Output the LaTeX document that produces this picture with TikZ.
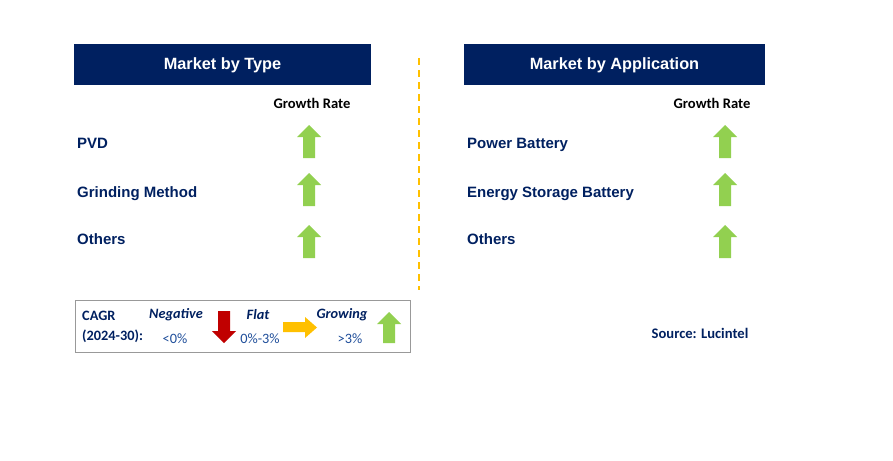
\documentclass[tikz,border=0pt]{standalone}
\usepackage{fontspec}
\setmainfont{Liberation Sans}
\newfontfamily\carlfont{Carlito}
\definecolor{navy}{HTML}{002060}
\definecolor{lblue}{HTML}{1F4E9A}
\definecolor{agreen}{HTML}{92D050}
\definecolor{ared}{HTML}{C00000}
\definecolor{ayellow}{HTML}{FFC000}
\newcommand\myup[3]{\fill[#3] (#1-12,#2) -- (#1,#2-12) -- (#1+12,#2) -- (#1+6,#2) -- (#1+6,#2+21) -- (#1-6,#2+21) -- (#1-6,#2) -- cycle;}
\begin{document}
\begin{tikzpicture}[x=1pt,y=-1pt,
  header/.style={fill=navy,text=white,font=\fontsize{16.3}{18}\selectfont\bfseries,inner sep=0pt,minimum height=41pt,text height=12pt,text depth=3pt},
  item/.style={anchor=base west,text=navy,font=\fontsize{15}{17}\selectfont\bfseries,inner sep=0pt},
  gr/.style={text=black,font=\carlfont\fontsize{14.6}{17}\selectfont\bfseries,inner sep=0pt},
  leg/.style={text=navy,font=\carlfont\fontsize{14.3}{17}\selectfont\bfseries,inner sep=0pt},
  legi/.style={text=navy,font=\carlfont\fontsize{14.3}{17}\selectfont\bfseries\itshape,inner sep=0pt},
  legp/.style={text=lblue,font=\carlfont\fontsize{14.3}{17}\selectfont,inner sep=0pt}]
\useasboundingbox (0,0) rectangle (893,460);
% headers
\node[header,minimum width=297pt] (h1) at (222.5,64.5) {Market by Type};
\node[header,minimum width=301pt] (h2) at (614.5,64.5) {Market by Application};
% divider
\coordinate (d1) at (419,58);
\coordinate (d2) at (419,290);
\draw[ayellow,line width=1.5pt,dash pattern=on 7pt off 5pt] (d1) -- (d2);
% growth rate
\node[gr] (g1) at (312,103) {Growth Rate};
\node[gr] (g2) at (712,103) {Growth Rate};
% items
\node[item] (a1) at (77,148) {PVD};
\node[item] (a2) at (77,197) {Grinding Method};
\node[item] (a3) at (77,244) {Others};
\node[item] (b1) at (467,148) {Power Battery};
\node[item] (b2) at (467,197) {Energy Storage Battery};
\node[item] (b3) at (467,244) {Others};
% arrows
\myup{309}{137}{agreen}
\myup{309}{185}{agreen}
\myup{309}{237}{agreen}
\myup{725}{137}{agreen}
\myup{725}{185}{agreen}
\myup{725}{237}{agreen}
% legend
\node[draw=gray!80,line width=0.8pt,minimum width=335pt,minimum height=52pt,inner sep=0pt] (box) at (242.5,326) {};
\node[leg,anchor=west] (c1) at (82,316) {CAGR};
\node[leg,anchor=west] (c2) at (82,336) {(2024-30):};
\node[legi] (n1) at (176,315) {Negative};
\node[legp] (n2) at (175,339) {<0\%};
\node[legi] (f1) at (258,315) {Flat};
\node[legp] (f2) at (260,339) {0\%-3\%};
\node[legi] (w1) at (342,315) {Growing};
\node[legp] (w2) at (350,339) {>3\%};
\fill[ared] (218,311) -- (230,311) -- (230,331) -- (236,331) -- (224,343) -- (212,331) -- (218,331) -- cycle;
\fill[ayellow] (283,322) -- (305,322) -- (305,317) -- (317,327.5) -- (305,338) -- (305,332) -- (283,332) -- cycle;
\fill[agreen] (377,324) -- (389,312) -- (401,324) -- (395,324) -- (395,343) -- (383,343) -- (383,324) -- cycle;
% source
\node[gr,text=navy] (src) at (700,333) {Source: Lucintel};
\end{tikzpicture}
\end{document}
